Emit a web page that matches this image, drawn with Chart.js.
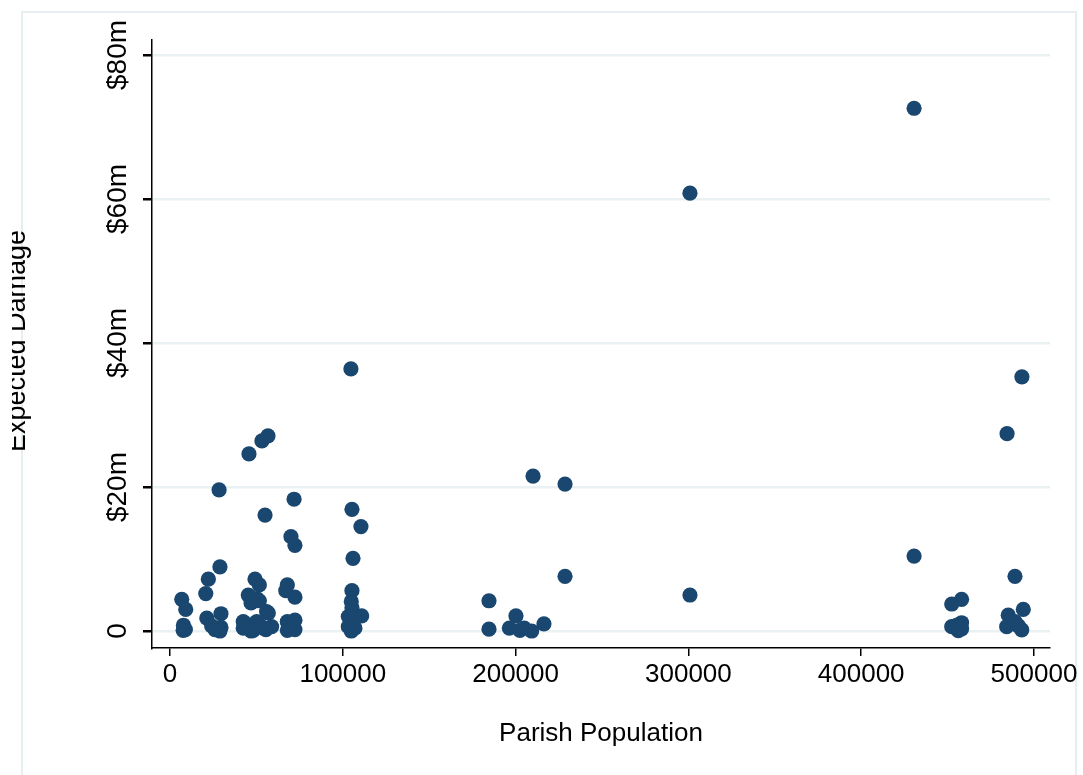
<!DOCTYPE html>
<html>
<head>
<meta charset="utf-8">
<script src="https://cdn.jsdelivr.net/npm/chart.js@4"></script>
<style>
  body { margin: 0; background: #fff; }
  canvas { display: block; }
</style>
</head>
<body>
<canvas id="scatter" width="1083" height="775"></canvas>
<script>
// Parish population vs expected damage ($m)
const population = [
  6800, 9100, 7800, 8900, 7600,
  20700, 22200, 28400, 28900, 21300, 29500, 24100, 29500, 28900, 26000,
  56700, 53200, 45700, 55000, 49200, 51700, 45300, 50200, 46300, 46900, 51700,
  55900, 56900, 42400, 50200, 42400, 48200, 54000, 58800, 45000, 52000, 47000, 55500,
  71800, 70000, 72300, 67900, 67000, 72300, 67900, 72300, 67900, 72300,
  104700, 105300, 110500, 105900, 105300, 104900, 105300, 110900, 103200, 104900, 103200, 107000, 104900, 106500,
  184600, 184600, 200200, 196400, 202500, 205000, 209300, 216400, 210100,
  228600, 228600,
  300900, 300900,
  430600, 430600,
  452400, 458100, 452400, 458100, 456200, 455200, 458100,
  484400, 493000, 489000, 485100, 493800, 484200, 489000, 492900, 491000
];
const damage = [
  4.4, 3.0, 0.8, 0.2, 0.1,
  5.2, 7.2, 19.6, 8.9, 1.8, 2.4, 0.7, 0.5, 0.0, 0.2,
  27.1, 26.4, 24.6, 16.1, 7.2, 6.4, 5.0, 4.5, 4.7, 3.9, 4.2,
  2.7, 2.5, 1.3, 1.3, 0.4, 0.1, 0.4, 0.6, 0.9, 0.8, 0.0, 0.2,
  18.3, 13.1, 11.9, 6.4, 5.6, 4.7, 1.3, 1.5, 0.1, 0.2,
  36.4, 16.9, 14.5, 10.1, 5.6, 4.1, 3.2, 2.1, 2.0, 1.1, 0.6, 0.4, 0.0, 1.6,
  4.2, 0.25, 2.1, 0.4, 0.1, 0.4, 0.0, 1.0, 21.5,
  20.4, 7.6,
  60.8, 5.0,
  72.6, 10.4,
  3.75, 4.4, 0.6, 1.15, 0.05, 0.8, 0.3,
  27.4, 35.3, 7.6, 2.2, 3.0, 0.6, 1.3, 0.15, 0.7
];
const xTicks = [0, 100000, 200000, 300000, 400000, 500000];
const yTicks = [0, 20, 40, 60, 80];
const xTitle = "Parish Population";
const yTitle = "Expected Damage";

const FONT = "Liberation Sans, Arial, Helvetica, sans-serif";
const points = population.map((p, i) => ({ x: p, y: damage[i] }));

// background + light outer frame
const frame = {
  id: "frame",
  beforeDraw(chart) {
    const ctx = chart.ctx;
    ctx.save();
    ctx.fillStyle = "#fff";
    ctx.fillRect(0, 0, chart.width, chart.height);
    ctx.strokeStyle = "#e6eef0";
    ctx.lineWidth = 2;
    ctx.strokeRect(22, 12, 1054, 800);
    ctx.restore();
  },
};

// rotated y labels and axis titles
const labels = {
  id: "labels",
  afterDraw(chart) {
    const ctx = chart.ctx;
    const y = chart.scales.y;
    const area = chart.chartArea;
    ctx.save();
    ctx.fillStyle = "#000";
    ctx.textAlign = "center";
    ctx.textBaseline = "alphabetic";
    ctx.font = "28px " + FONT;
    y.ticks.forEach((t) => {
      const py = y.getPixelForValue(t.value);
      ctx.save();
      ctx.translate(126, py);
      ctx.rotate(-Math.PI / 2);
      ctx.fillText(t.value === 0 ? "0" : "$" + t.value + "m", 0, 0);
      ctx.restore();
    });
    // x title
    ctx.font = "26px " + FONT;
    ctx.fillText(xTitle, (area.left + area.right) / 2, 741);
    // y title, cut at the left like the original
    ctx.font = "27px " + FONT;
    ctx.save();
    ctx.beginPath();
    ctx.rect(12, 0, 200, chart.height);
    ctx.clip();
    ctx.translate(25, (area.top + area.bottom) / 2 - 3);
    ctx.rotate(-Math.PI / 2);
    ctx.fillText(yTitle, 0, 0);
    ctx.restore();
    ctx.restore();
  },
};

new Chart(document.getElementById("scatter"), {
  type: "scatter",
  data: {
    datasets: [
      {
        data: points,
        backgroundColor: "#1a476f",
        borderWidth: 0,
        pointRadius: 7.6,
        pointHoverRadius: 7.6,
      },
    ],
  },
  options: {
    responsive: false,
    animation: false,
    layout: { padding: { left: 0, right: 33, top: 40, bottom: 0 } },
    plugins: { legend: { display: false }, tooltip: { enabled: false } },
    scales: {
      x: {
        type: "linear",
        min: -10417,
        max: 509259,
        afterBuildTicks: (s) => { s.ticks = xTicks.map((v) => ({ value: v })); },
        afterFit: (s) => { s.height = 127; },
        border: { color: "#000", width: 1.5 },
        grid: { drawOnChartArea: false, tickColor: "#000", tickLength: 8, lineWidth: 1.5 },
        ticks: {
          color: "#000",
          font: { family: FONT, size: 26 },
          padding: 3,
          maxRotation: 0,
          callback: (v) => String(v),
        },
      },
      y: {
        type: "linear",
        min: -2.36,
        max: 82.08,
        afterBuildTicks: (s) => { s.ticks = yTicks.map((v) => ({ value: v })); },
        afterFit: (s) => { s.width = 152; },
        border: { color: "#000", width: 1.5 },
        grid: { color: "#eaf1f2", lineWidth: 2.5, tickColor: "#000", tickLength: 9 },
        ticks: { display: false },
      },
    },
  },
  plugins: [frame, labels],
});
</script>
</body>
</html>
